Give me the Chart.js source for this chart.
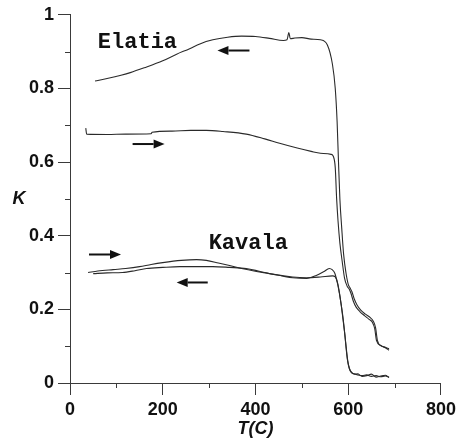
<!DOCTYPE html>
<html><head><meta charset="utf-8">
<script src="https://cdn.jsdelivr.net/npm/chart.js@4/dist/chart.umd.min.js"></script>
<style>html,body{margin:0;padding:0;background:#fff}canvas{display:block}</style>
</head><body>
<canvas id="c" width="460" height="443"></canvas>
<script>
// ---- data ----
const elatiaCoolT = [54,80,110,130,160,200,230,258,280,308,340,370,400,430,460,468,472,475,485,500,520,540,555,566,572,576,579,582,586,590,595,600,604,608,613,619,627,637,647,654,659,663,672,680,688];
const elatiaCoolK = [0.820,0.827,0.836,0.843,0.856,0.875,0.893,0.908,0.921,0.932,0.939,0.942,0.941,0.936,0.930,0.932,0.952,0.935,0.937,0.938,0.934,0.932,0.918,0.865,0.800,0.710,0.600,0.500,0.420,0.350,0.300,0.268,0.258,0.248,0.228,0.212,0.198,0.187,0.178,0.168,0.150,0.115,0.100,0.096,0.089];

const elatiaHeatT = [34,36,80,120,175,177,220,260,294,330,380,420,452,490,520,540,563,568,572,575,578,582,587,592,598,602,606,611,617,625,635,645,652,657,661,670,680,688];
const elatiaHeatK = [0.692,0.676,0.675,0.676,0.677,0.681,0.684,0.686,0.686,0.683,0.676,0.663,0.651,0.638,0.629,0.624,0.621,0.615,0.585,0.500,0.440,0.380,0.330,0.285,0.262,0.255,0.243,0.222,0.206,0.194,0.183,0.173,0.165,0.148,0.115,0.102,0.097,0.093];

const kavalaHeatT = [39,60,93,120,150,175,200,240,273,294,320,344,370,402,430,460,480,510,531,548,559,566,571,576,580,584,588,592,595,598,602,607,612,620,630,640,650,660,670,680,688];
const kavalaHeatK = [0.300,0.304,0.308,0.311,0.316,0.322,0.327,0.333,0.335,0.333,0.326,0.319,0.311,0.303,0.297,0.290,0.286,0.284,0.292,0.303,0.311,0.307,0.298,0.275,0.250,0.220,0.185,0.140,0.100,0.065,0.040,0.028,0.025,0.022,0.020,0.022,0.018,0.020,0.017,0.019,0.016];

const kavalaCoolT = [50,80,113,140,165,200,237,270,308,344,380,410,440,480,510,540,566,572,577,581,585,589,593,596,599,603,608,614,620,630,640,650,660,670,680,688];
const kavalaCoolK = [0.297,0.299,0.300,0.305,0.311,0.314,0.316,0.316,0.316,0.314,0.311,0.303,0.295,0.288,0.286,0.288,0.291,0.288,0.272,0.245,0.210,0.170,0.128,0.092,0.060,0.038,0.028,0.024,0.025,0.018,0.020,0.024,0.016,0.019,0.021,0.015];

const xTicks = [0,200,400,600,800];
const yTicks = [0,0.2,0.4,0.6,0.8,1];
const xMinor = [100,300,500,700];
const yMinor = [0.1,0.3,0.5,0.7,0.9];

const arrowFromT = [387,135,41,297];
const arrowToT   = [318,204,110,230];
const arrowK     = [0.903,0.649,0.349,0.273];

const labelText = ['Elatia','Kavala'];
const labelT = [60,299];
const labelK = [0.909,0.365];

const xTitle = 'T(C)';
const yTitle = 'K';

// ---- build ----
const pts = (T,K) => T.map((t,i)=>({x:t,y:K[i]}));
const lineColor = '#2a2a2a';
const mk = (T,K) => ({data:pts(T,K), showLine:true, borderColor:lineColor, borderWidth:1.1, pointRadius:0, fill:false, cubicInterpolationMode:'monotone'});

const axisColor = '#3a3a3a';
const tickFont = {family:'"Liberation Sans", Arial, sans-serif', size:18, weight:'bold'};

const decor = {
  id:'decor',
  afterDraw(chart){
    const ctx = chart.ctx, xs = chart.scales.x, ys = chart.scales.y;
    ctx.save();
    ctx.strokeStyle = axisColor; ctx.lineWidth = 1;
    ctx.beginPath();
    yMinor.forEach(v=>{ const y = Math.round(ys.getPixelForValue(v))+0.5; ctx.moveTo(xs.left-5,y); ctx.lineTo(xs.left,y); });
    xMinor.forEach(v=>{ const x = Math.round(xs.getPixelForValue(v))+0.5; ctx.moveTo(x,ys.bottom); ctx.lineTo(x,ys.bottom+5); });
    ctx.stroke();
    ctx.fillStyle = '#111'; ctx.strokeStyle = '#111'; ctx.lineWidth = 2;
    arrowFromT.forEach((f,i)=>{
      const x0 = xs.getPixelForValue(f), x1 = xs.getPixelForValue(arrowToT[i]), y = ys.getPixelForValue(arrowK[i]);
      const dir = Math.sign(x1-x0), hl = 11, hw = 4.5;
      ctx.beginPath(); ctx.moveTo(x0,y); ctx.lineTo(x1-dir*hl,y); ctx.stroke();
      ctx.beginPath(); ctx.moveTo(x1,y); ctx.lineTo(x1-dir*hl,y-hw); ctx.lineTo(x1-dir*hl,y+hw); ctx.closePath(); ctx.fill();
    });
    ctx.fillStyle = '#111';
    ctx.font = 'bold 22px "Liberation Mono", "Courier New", monospace';
    ctx.textAlign = 'left'; ctx.textBaseline = 'alphabetic';
    labelText.forEach((t,i)=>{ ctx.fillText(t, xs.getPixelForValue(labelT[i]), ys.getPixelForValue(labelK[i])); });
    ctx.font = 'italic bold 18px "Liberation Sans", Arial, sans-serif';
    ctx.textAlign = 'center'; ctx.textBaseline = 'middle';
    ctx.fillText(xTitle, (xs.left+xs.right)/2, 429);
    ctx.fillText(yTitle, 19, (ys.top+ys.bottom)/2);
    ctx.restore();
  }
};

new Chart(document.getElementById('c'), {
  type:'scatter',
  data:{datasets:[mk(elatiaCoolT,elatiaCoolK), mk(elatiaHeatT,elatiaHeatK), mk(kavalaHeatT,kavalaHeatK), mk(kavalaCoolT,kavalaCoolK)]},
  options:{
    responsive:false, animation:false, devicePixelRatio:1,
    layout:{padding:{top:13,right:18,left:0,bottom:0}},
    plugins:{legend:{display:false}, tooltip:{enabled:false}},
    scales:{
      x:{type:'linear', min:0, max:800,
        afterBuildTicks:s=>{s.ticks = xTicks.map(v=>({value:v}));},
        afterFit:s=>{s.height = 60;},
        ticks:{font:tickFont, color:'#111', padding:4, maxRotation:0, callback:v=>String(v)},
        grid:{drawOnChartArea:false, drawTicks:true, tickLength:12, color:axisColor, tickColor:axisColor},
        border:{display:true, color:axisColor, width:1}
      },
      y:{type:'linear', min:0, max:1,
        afterBuildTicks:s=>{s.ticks = yTicks.map(v=>({value:v}));},
        afterFit:s=>{s.width = 70;},
        ticks:{font:tickFont, color:'#111', padding:4, callback:v=>String(+(+v).toFixed(1))},
        grid:{drawOnChartArea:false, drawTicks:true, tickLength:12, color:axisColor, tickColor:axisColor},
        border:{display:true, color:axisColor, width:1}
      }
    }
  },
  plugins:[decor]
});
</script>
</body></html>
